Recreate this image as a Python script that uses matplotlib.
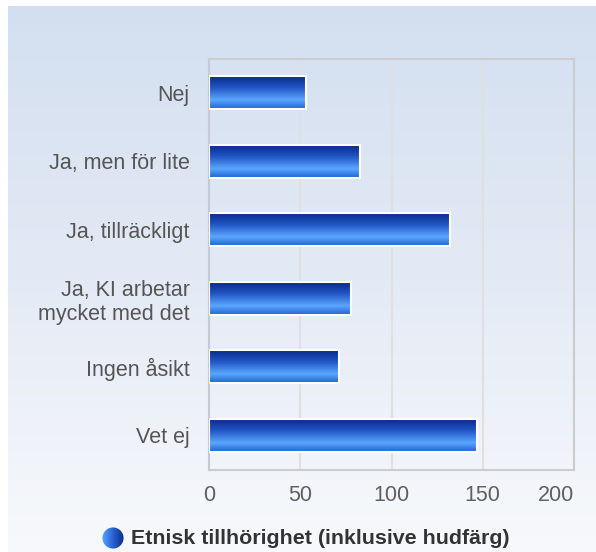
import numpy as np
import matplotlib
matplotlib.use("Agg")
import matplotlib.pyplot as plt
from matplotlib.colors import LinearSegmentedColormap
from matplotlib.patches import Circle

plt.rcParams['font.family'] = ['Liberation Sans', 'DejaVu Sans']

categories = ["Nej", "Ja, men för lite", "Ja, tillräckligt",
              "Ja, KI arbetar\nmycket med det", "Ingen åsikt", "Vet ej"]
values = [53, 83, 132, 78, 71, 147]
series_name = "Etnisk tillhörighet (inklusive hudfärg)"
xticks = [0, 50, 100, 150, 200]

fig = plt.figure(figsize=(5.96, 5.52), dpi=100)

# background gradient panel
bg = fig.add_axes([8/596, 0, 1 - 8/596, 1 - 6/552])
bg_cmap = LinearSegmentedColormap.from_list("bg", ["#d3dff0", "#e4eaf5", "#f7f9fc"])
bg.imshow(np.linspace(0, 1, 256).reshape(-1, 1), aspect='auto', cmap=bg_cmap,
          extent=[0, 1, 0, 1])
bg.axis('off')

ax = fig.add_axes([209/596, 1 - 469.5/552, 365/596, 411/552])
ax.patch.set_alpha(0)

bar_cmap = LinearSegmentedColormap.from_list(
    "bar", [(0.0, "#08298a"), (0.35, "#2256c4"), (0.72, "#5aa6ff"), (1.0, "#1f62d2")])

y = np.arange(len(categories))
bars = ax.barh(y, values, height=0.48, facecolor='none', edgecolor='white',
               linewidth=1.5, zorder=4)
grad = np.linspace(0, 1, 256).reshape(-1, 1)
for b in bars:
    x0, y0 = b.get_x(), b.get_y()
    w, h = b.get_width(), b.get_height()
    im = ax.imshow(grad, aspect='auto', cmap=bar_cmap, zorder=3,
                   extent=[x0, x0 + w, y0 + h, y0], origin='upper')
    im.set_clip_path(b)

ax.set_xlim(0, 200)
ax.set_ylim(len(categories) - 0.5, -0.5)
ax.set_xticks(xticks)
ax.set_yticks(y)
ax.set_yticklabels(categories)
ax.xaxis.grid(True, color='#e0e0e0', linewidth=1.5, zorder=1)
ax.set_axisbelow(True)
ax.tick_params(axis='x', length=0, pad=11, labelsize=15.5, labelcolor='#606060')
ax.tick_params(axis='y', length=0, pad=14, labelsize=15.5, labelcolor='#555555')
ax.get_xticklabels()[-1].set_horizontalalignment('right')
for lbl in ax.get_yticklabels():
    lbl.set_horizontalalignment('right')
    lbl.set_multialignment('right')
for s in ax.spines.values():
    s.set_color('#cccccc')
    s.set_linewidth(1.5)
ax.spines['left'].set_color('#c4cad6')

# legend
fig.text(131/596, 1 - 538/552, series_name, fontsize=15.4, fontweight='bold',
         color='#333333', va='center', ha='left')
lax = fig.add_axes([102/596, 1 - 549/552, 22/596, 22/552])
lax.set_xlim(0, 1)
lax.set_ylim(0, 1)
lax.axis('off')
leg_cmap = LinearSegmentedColormap.from_list("leg", ["#5aa6ff", "#2a62d0", "#0a2c8a"])
im = lax.imshow(np.linspace(0, 1, 256).reshape(1, -1), aspect='auto', cmap=leg_cmap,
                extent=[0, 1, 0, 1])
circ = Circle((0.5, 0.5), 0.48, transform=lax.transData, facecolor='none', edgecolor='none')
lax.add_patch(circ)
im.set_clip_path(circ)

fig.savefig("out.png", dpi=100, facecolor='white')
